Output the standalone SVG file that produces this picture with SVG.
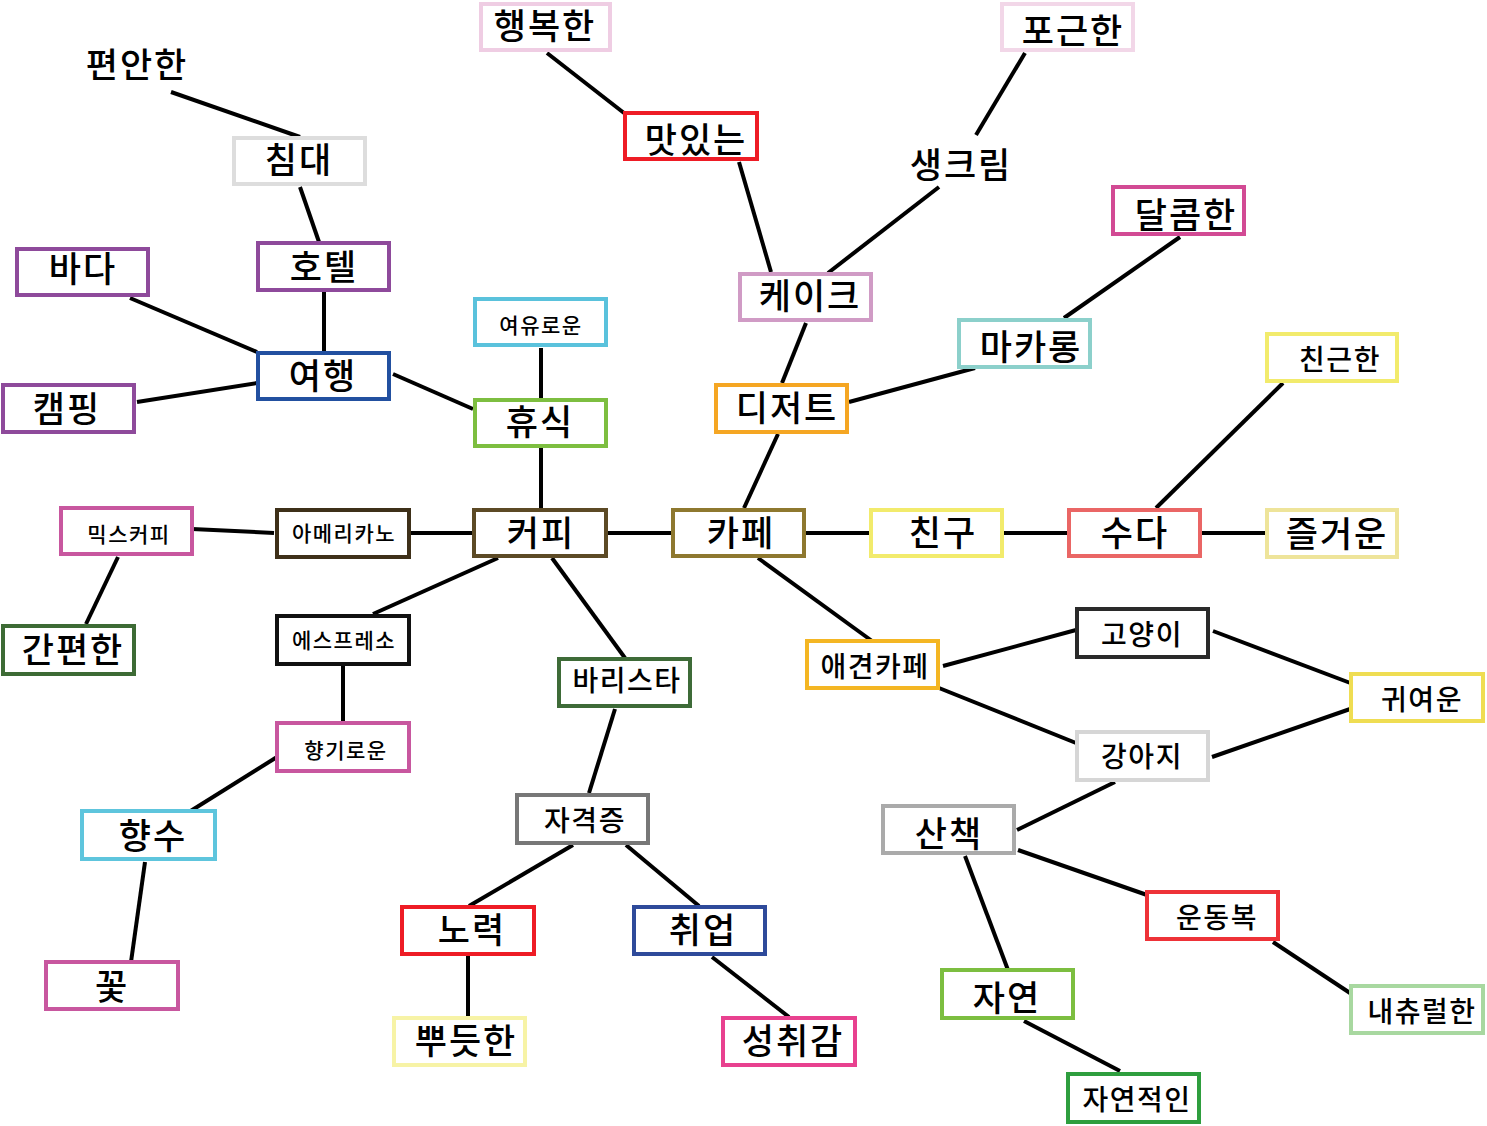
<svg xmlns="http://www.w3.org/2000/svg" width="1487" height="1126" viewBox="0 0 1487 1126">
<style>
rect{fill:#fff;stroke-width:4}
text{font-family:"Noto Sans CJK KR","Noto Sans",sans-serif;font-weight:500;text-anchor:middle;fill:#000}
.L{font-size:35px;letter-spacing:2px}
.M{font-size:28px;letter-spacing:1.5px}
.S{font-size:21px;letter-spacing:1.5px}
#edges line{stroke:#000;stroke-width:4;stroke-linecap:butt}
</style>
<rect x="0" y="0" width="1487" height="1126" style="fill:#fff;stroke:none"/>
<g id="edges">
<line x1="171" y1="92" x2="300" y2="137"/>
<line x1="300" y1="187" x2="319" y2="242"/>
<line x1="324" y1="292" x2="324" y2="351"/>
<line x1="130" y1="298" x2="257" y2="352"/>
<line x1="137" y1="402" x2="257" y2="383"/>
<line x1="393" y1="374" x2="473" y2="409"/>
<line x1="541" y1="348" x2="541" y2="398"/>
<line x1="541" y1="448" x2="541" y2="508"/>
<line x1="547" y1="53" x2="624" y2="113"/>
<line x1="739" y1="162" x2="771" y2="272"/>
<line x1="939" y1="187" x2="828" y2="273"/>
<line x1="1025" y1="53" x2="976" y2="135"/>
<line x1="806" y1="323" x2="782" y2="383"/>
<line x1="1180" y1="237" x2="1064" y2="318"/>
<line x1="975" y1="368" x2="849" y2="402"/>
<line x1="778" y1="434" x2="744" y2="508"/>
<line x1="608" y1="533" x2="671" y2="533"/>
<line x1="806" y1="533" x2="869" y2="533"/>
<line x1="1004" y1="533" x2="1067" y2="533"/>
<line x1="1202" y1="533" x2="1265" y2="533"/>
<line x1="1283" y1="383" x2="1156" y2="508"/>
<line x1="411" y1="533" x2="472" y2="533"/>
<line x1="192" y1="529" x2="274" y2="533"/>
<line x1="118" y1="557" x2="86" y2="624"/>
<line x1="498" y1="558" x2="373" y2="614"/>
<line x1="343" y1="666" x2="343" y2="721"/>
<line x1="277" y1="757" x2="189" y2="812"/>
<line x1="145" y1="862" x2="131" y2="962"/>
<line x1="552" y1="558" x2="625" y2="658"/>
<line x1="615" y1="709" x2="589" y2="793"/>
<line x1="573" y1="845" x2="469" y2="906"/>
<line x1="626" y1="845" x2="699" y2="906"/>
<line x1="468" y1="956" x2="468" y2="1016"/>
<line x1="712" y1="957" x2="789" y2="1017"/>
<line x1="758" y1="558" x2="872" y2="641"/>
<line x1="943" y1="666" x2="1076" y2="630"/>
<line x1="939" y1="688" x2="1076" y2="743"/>
<line x1="1213" y1="631" x2="1353" y2="684"/>
<line x1="1212" y1="757" x2="1353" y2="708"/>
<line x1="1115" y1="782" x2="1017" y2="830"/>
<line x1="1018" y1="850" x2="1147" y2="895"/>
<line x1="965" y1="856" x2="1008" y2="970"/>
<line x1="1273" y1="942" x2="1353" y2="995"/>
<line x1="1024" y1="1021" x2="1120" y2="1071"/>
</g>
<g id="n-pyeonanhan"><text class="L" x="137" y="78">편안한</text></g>
<g id="n-saengkeurim"><text class="L" x="961" y="178">생크림</text></g>
<g id="n-haengbokhan"><rect x="481" y="4" width="129" height="46" style="stroke:#EFCDE3"/><text class="L" x="545" y="39">행복한</text></g>
<g id="n-pogeunhan"><rect x="1002" y="4" width="131" height="46" style="stroke:#F2D7E8"/><text class="L" x="1073" y="44">포근한</text></g>
<g id="n-chimdae"><rect x="234" y="138" width="131" height="46" style="stroke:#DDDDDD"/><text class="L" x="299" y="173">침대</text></g>
<g id="n-masinneun"><rect x="625" y="113" width="132" height="46" style="stroke:#EE1C25"/><text class="L" x="696" y="153">맛있는</text></g>
<g id="n-dalkomhan"><rect x="1113" y="187" width="131" height="47" style="stroke:#D24A94"/><text class="L" x="1186" y="228">달콤한</text></g>
<g id="n-bada"><rect x="17" y="249" width="131" height="46" style="stroke:#8E4A9B"/><text class="L" x="83" y="282">바다</text></g>
<g id="n-hotel"><rect x="258" y="243" width="131" height="47" style="stroke:#8E4A9B"/><text class="L" x="324" y="280">호텔</text></g>
<g id="n-keikeu"><rect x="740" y="274" width="131" height="46" style="stroke:#D09BC5"/><text class="L" x="810" y="309">케이크</text></g>
<g id="n-makarong"><rect x="959" y="320" width="131" height="47" style="stroke:#8CD0CB"/><text class="L" x="1031" y="360">마카롱</text></g>
<g id="n-yeoyuroun"><rect x="475" y="299" width="131" height="46" style="stroke:#5AC2DC"/><text class="S" x="541" y="333">여유로운</text></g>
<g id="n-chingeunhan"><rect x="1267" y="334" width="130" height="47" style="stroke:#F2EB6C"/><text class="M" x="1340" y="370">친근한</text></g>
<g id="n-yeohaeng"><rect x="258" y="353" width="131" height="46" style="stroke:#2250A0"/><text class="L" x="323" y="389">여행</text></g>
<g id="n-kaemping"><rect x="3" y="385" width="131" height="47" style="stroke:#8E4A9B"/><text class="L" x="67" y="422">캠핑</text></g>
<g id="n-hyusik"><rect x="475" y="400" width="131" height="46" style="stroke:#7DBE40"/><text class="L" x="540" y="435">휴식</text></g>
<g id="n-dijeoteu"><rect x="716" y="385" width="131" height="47" style="stroke:#F5A623"/><text class="L" x="787" y="421">디저트</text></g>
<g id="n-mikseukeopi"><rect x="61" y="508" width="131" height="46" style="stroke:#C8579F"/><text class="S" x="129" y="542">믹스커피</text></g>
<g id="n-americano"><rect x="277" y="510" width="132" height="47" style="stroke:#3E3019"/><text class="S" x="344" y="541">아메리카노</text></g>
<g id="n-keopi"><rect x="474" y="510" width="132" height="46" style="stroke:#5C4A25"/><text class="L" x="541" y="546">커피</text></g>
<g id="n-kape"><rect x="673" y="510" width="131" height="46" style="stroke:#8E782F"/><text class="L" x="741" y="546">카페</text></g>
<g id="n-chingu"><rect x="871" y="510" width="131" height="46" style="stroke:#F2EB6C"/><text class="L" x="943" y="546">친구</text></g>
<g id="n-suda"><rect x="1069" y="510" width="131" height="46" style="stroke:#EA6665"/><text class="L" x="1135" y="546">수다</text></g>
<g id="n-jeulgeoun"><rect x="1267" y="510" width="130" height="47" style="stroke:#EEE49A"/><text class="L" x="1337" y="547">즐거운</text></g>
<g id="n-ganpyeonhan"><rect x="3" y="626" width="131" height="48" style="stroke:#3D6B35"/><text class="L" x="73" y="663">간편한</text></g>
<g id="n-espresso"><rect x="277" y="616" width="132" height="48" style="stroke:#111111"/><text class="S" x="344" y="648">에스프레소</text></g>
<g id="n-barista"><rect x="559" y="659" width="131" height="47" style="stroke:#3E6B38"/><text class="M" x="627" y="691">바리스타</text></g>
<g id="n-aegyeonkape"><rect x="807" y="641" width="131" height="47" style="stroke:#F4B623"/><text class="M" x="875" y="677">애견카페</text></g>
<g id="n-goyangi"><rect x="1077" y="609" width="131" height="48" style="stroke:#2A2A2A"/><text class="M" x="1142" y="645">고양이</text></g>
<g id="n-gwiyeoun"><rect x="1351" y="674" width="132" height="47" style="stroke:#EFDD52"/><text class="M" x="1422" y="710">귀여운</text></g>
<g id="n-hyanggiroun"><rect x="277" y="723" width="132" height="48" style="stroke:#C8579F"/><text class="S" x="346" y="758">향기로운</text></g>
<g id="n-gangaji"><rect x="1077" y="732" width="131" height="48" style="stroke:#D6D6D6"/><text class="M" x="1142" y="767">강아지</text></g>
<g id="n-hyangsu"><rect x="82" y="811" width="133" height="48" style="stroke:#5EC5DD"/><text class="L" x="153" y="849">향수</text></g>
<g id="n-jagyeokjeung"><rect x="517" y="795" width="131" height="48" style="stroke:#777777"/><text class="M" x="585" y="831">자격증</text></g>
<g id="n-sanchaek"><rect x="883" y="806" width="131" height="47" style="stroke:#AAAAAA"/><text class="L" x="949" y="847">산책</text></g>
<g id="n-noryeok"><rect x="402" y="907" width="132" height="47" style="stroke:#EE1C25"/><text class="L" x="472" y="943">노력</text></g>
<g id="n-chwieop"><rect x="634" y="907" width="131" height="47" style="stroke:#2E4A9A"/><text class="L" x="703" y="943">취업</text></g>
<g id="n-undongbok"><rect x="1147" y="892" width="131" height="47" style="stroke:#EE3238"/><text class="M" x="1217" y="928">운동복</text></g>
<g id="n-kkot"><rect x="46" y="962" width="132" height="47" style="stroke:#C8579F"/><text class="L" x="112" y="1000">꽃</text></g>
<g id="n-ppudeutan"><rect x="394" y="1018" width="131" height="47" style="stroke:#F7F3A6"/><text class="L" x="466" y="1054">뿌듯한</text></g>
<g id="n-seongchwigam"><rect x="723" y="1018" width="132" height="47" style="stroke:#E8418F"/><text class="L" x="793" y="1054">성취감</text></g>
<g id="n-jayeon"><rect x="942" y="970" width="131" height="48" style="stroke:#7CBE40"/><text class="L" x="1007" y="1011">자연</text></g>
<g id="n-naechyureolhan"><rect x="1351" y="986" width="132" height="47" style="stroke:#A8D8A0"/><text class="M" x="1422" y="1022">내츄럴한</text></g>
<g id="n-jayeonjeogin"><rect x="1068" y="1074" width="131" height="48" style="stroke:#2E9E3E"/><text class="M" x="1137" y="1110">자연적인</text></g>
</svg>
